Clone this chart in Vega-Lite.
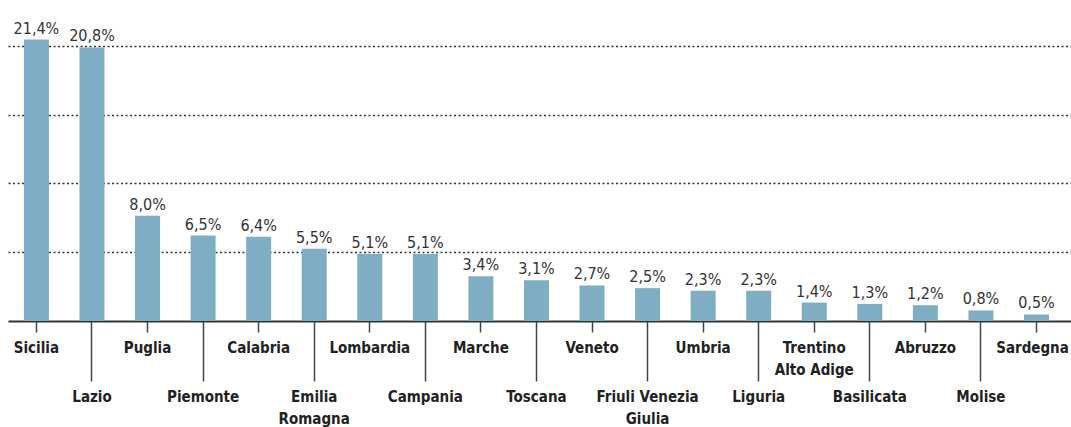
{
  "$schema": "https://vega.github.io/schema/vega-lite/v6.json",
  "width": 1063,
  "height": 300,
  "autosize": {"type": "none"},
  "padding": {"left": 8, "top": 21, "right": 0, "bottom": 106},
  "config": {"view": {"stroke": null}, "font": "DejaVu Sans Condensed, sans-serif"},
  "data": {"values": [
    {"regione": "Sicilia", "v": 21.4},
    {"regione": "Lazio", "v": 20.8},
    {"regione": "Puglia", "v": 8.0},
    {"regione": "Piemonte", "v": 6.5},
    {"regione": "Calabria", "v": 6.4},
    {"regione": "Emilia Romagna", "v": 5.5},
    {"regione": "Lombardia", "v": 5.1},
    {"regione": "Campania", "v": 5.1},
    {"regione": "Marche", "v": 3.4},
    {"regione": "Toscana", "v": 3.1},
    {"regione": "Veneto", "v": 2.7},
    {"regione": "Friuli Venezia Giulia", "v": 2.5},
    {"regione": "Umbria", "v": 2.3},
    {"regione": "Liguria", "v": 2.3},
    {"regione": "Trentino Alto Adige", "v": 1.4},
    {"regione": "Basilicata", "v": 1.3},
    {"regione": "Abruzzo", "v": 1.2},
    {"regione": "Molise", "v": 0.8},
    {"regione": "Sardegna", "v": 0.5}
  ]},
  "transform": [
    {"calculate": "replace(format(datum.v, '.1f'), '.', ',') + '%'", "as": "lbl"}
  ],
  "encoding": {
    "x": {
      "field": "regione", "type": "nominal", "sort": null,
      "scale": {"paddingInner": 0.55, "paddingOuter": 0.3415, "align": 0.42},
      "axis": {
        "title": null,
        "labelAngle": 0,
        "labelOverlap": false,
        "labelBound": false,
        "labelFlush": false,
        "labelFont": "DejaVu Sans Condensed, sans-serif",
        "labelFontWeight": "bold",
        "labelFontSize": 15,
        "labelColor": "#222222",
        "labelBaseline": "top",
        "labelLineHeight": 22,
        "labelPadding": 8,
        "labelOffset": {"condition": {"test": "datum.value == 'Sardegna'", "value": -4}, "value": 0},
        "labelExpr": "datum.value == 'Emilia Romagna' ? ['Emilia','Romagna'] : datum.value == 'Friuli Venezia Giulia' ? ['Friuli Venezia','Giulia'] : datum.value == 'Trentino Alto Adige' ? ['Trentino','Alto Adige'] : datum.value",
        "domainColor": "#333333",
        "domainWidth": 2,
        "tickColor": "#444444",
        "tickWidth": 1.5,
        "tickSize": {"condition": {"test": "indexof(['Lazio','Piemonte','Emilia Romagna','Campania','Toscana','Friuli Venezia Giulia','Liguria','Basilicata','Molise'], datum.value) >= 0", "value": 60}, "value": 11}
      }
    },
    "y": {
      "field": "v", "type": "quantitative",
      "scale": {"domain": [0, 22.81], "nice": false, "zero": true},
      "axis": {
        "title": null, "labels": false, "ticks": false, "domain": false,
        "grid": true, "values": [5.23, 10.46, 15.69, 20.92],
        "gridColor": "#333333", "gridDash": [2, 2.5], "gridWidth": 1.5
      }
    }
  },
  "layer": [
    {"mark": {"type": "bar", "color": "#7FADC4"}},
    {
      "mark": {"type": "text", "baseline": "alphabetic", "dy": -6, "fontSize": 16, "color": "#333333", "font": "DejaVu Sans Condensed, sans-serif"},
      "encoding": {"text": {"field": "lbl"}}
    }
  ]
}
